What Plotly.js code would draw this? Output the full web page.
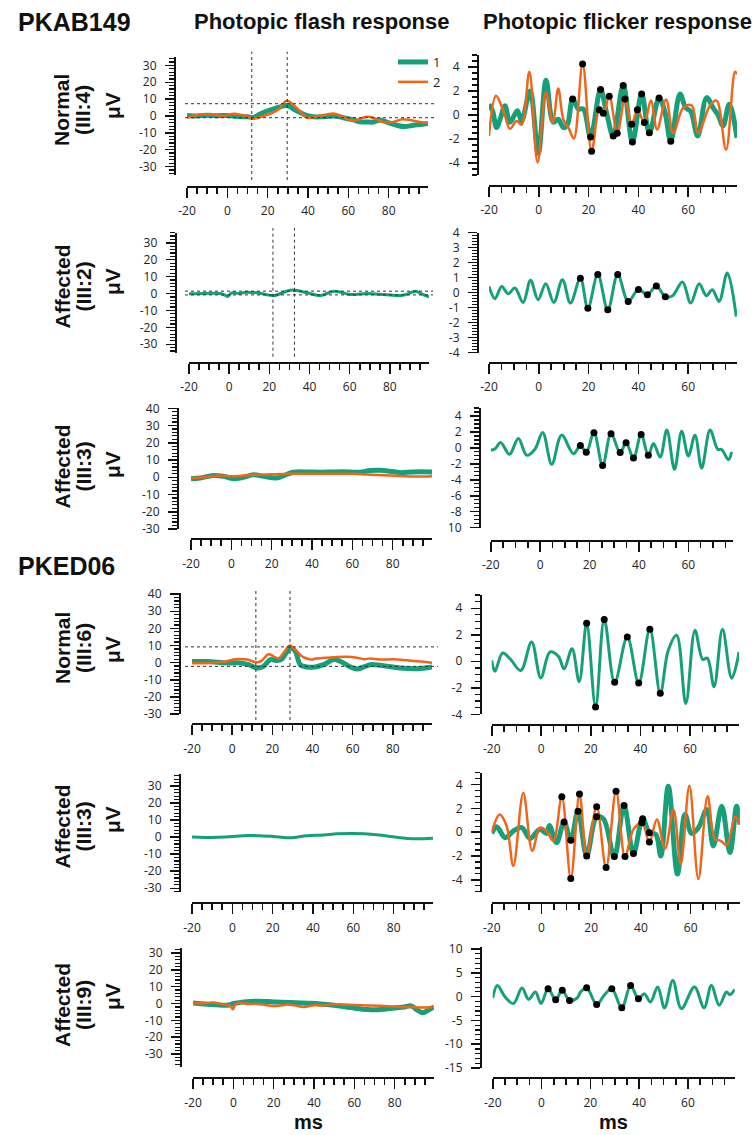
<!DOCTYPE html>
<html><head><meta charset="utf-8">
<script src="https://cdn.plot.ly/plotly-3.0.1.min.js"></script>
<style>body{margin:0;background:#fff}#chart{width:755px;height:1135px}</style>
</head><body><div id="chart"></div>
<script>
// ---------------- DATA ----------------
// PKAB149 Normal (III:4) flash
const abN_flash_t1 = [-20,-15,-10,-5,0,5,10,13,16,19.5,24.5,28,30.2,33,36,39.3,42.6,47,52.6,57.5,62.5,65.8,69,72.4,75.7,79.8,84,88,92.2,96,99.5];
const abN_flash_v1 = [0.3,0,0.5,0.2,0.3,-0.3,-0.5,-0.8,1,2.8,4.8,6.0,6.1,4,2.2,0.3,-0.5,-0.5,0,-1,-2.3,-3.5,-3.5,-3.6,-2.3,-4,-5.5,-6.3,-5.5,-5,-4.4];
const abN_flash_t2 = [-20,-13.5,-7,-2,3,8,13.7,17.9,21.2,25.3,29.4,32.7,36,39.3,43.5,49.3,52.6,55.9,60.9,64,69,72.4,77.4,82.3,86.4,90.6,95.5,99.5];
const abN_flash_v2 = [-1,0.9,0.9,0,1.3,0.4,-1.4,0,1.3,3.8,9.0,6.7,2.8,-1,-0.4,0.9,1.5,0.3,-2.4,-2.4,-0.4,-1,-3.6,-3.6,-2,-2.4,-3.6,-4.4];
const abN_cursor_t = [12.1, 29.7];
const abN_cursor_v = [7.3, -1.0];
// PKAB149 Affected (III:2) flash
const abA2_flash_t = [-20,-12,-4.5,-2,-0.7,1.3,5,8.8,15.5,22.2,30.5,35.5,42.2,45.5,52.2,55.5,60.5,68.8,77.2,85.5,88,93,95.5,99.5];
const abA2_flash_v = [-0.1,0.1,0,-1,-1.8,0.4,0,0.8,0.2,-1.2,2,1.4,-0.6,-1.2,1.4,0.8,-0.6,0,-0.6,-1.2,-0.6,1.4,0,-2];
const abA2_cursor_t = [21.8, 32.5];
const abA2_cursor_v = [1.4, -0.8];
// PKAB149 Affected (III:3) flash
const abA3_flash_t1 = [-20,-15.5,-9,-4,1,6,11,16,22.5,27.4,30.7,37.4,44,50.6,59,63.8,68.8,73.7,78.7,83.6,90.2,99.5];
const abA3_flash_v1 = [-0.8,-0.4,1,0.6,-0.8,0,1.4,0.6,-0.4,1.6,2.9,3.1,2.9,3.1,3.1,2.9,3.9,4.1,3.5,2.7,3.1,3.1];
const abA3_flash_t2 = [-20,-12,-5.6,1,11,21,30.7,45,60.5,67,75.4,83.6,92,99.5];
const abA3_flash_v2 = [-0.4,0.2,1,0.6,1.4,1.8,2,2,2,1.6,1.2,0.8,0.4,0.6];
// PKED06 Normal (III:6) flash
const edN_flash_t1 = [-20,-12.5,-2.6,4,8.2,12.3,15.6,19,22.3,24.8,29,31.4,33.9,37.2,41.4,45.5,50.5,53.8,58.8,62.1,66.2,68.7,75.4,83.6,92,99.5];
const edN_flash_v1 = [0.6,0.6,-0.2,-0.2,-1.2,-3.1,-2.2,1.8,1.2,2.2,8.6,6.7,-1.2,-2.5,-2.5,-1.2,1.8,0.8,-2.5,-3.7,-2.2,-1.2,-1.8,-3.1,-3.5,-2.5];
const edN_flash_t2 = [-20,-9.2,-2.6,1.6,7.4,12.3,14.8,18.1,20.6,23.1,25.6,28.6,31.4,34.7,37.2,39.7,41.4,44.7,50.5,57.1,62.1,65.5,68.8,73.7,80.3,87,99.5];
const edN_flash_v2 = [-0.4,0,0.8,2,1.8,0.2,1.2,4.9,3.7,2.4,5.7,10,7.6,3.7,2.4,1.8,2.4,2.7,3.1,3.5,2.9,2,2.4,1.8,2,1.4,0];
const edN_cursor_t = [11.8, 28.8];
const edN_cursor_v = [9.2, -2.2];
// PKED06 Affected (III:3) flash
const edA3_flash_t = [-20,-12.9,0.4,7.1,13.7,22,28.7,37,45.3,52,60.2,70.2,78.5,86.8,91.8,99.5];
const edA3_flash_v = [0,-0.2,0.4,1,0.8,0.2,-0.4,0.8,1.2,1.9,2.1,1.6,0.4,-0.8,-1,-0.6];
// PKED06 Affected (III:9) flash
const edA9_flash_t1 = [-20,-13,-3,0.2,5.2,11.8,20.1,28.4,36.7,43.3,50,58.3,66.6,73.2,79.8,84.8,88.1,91.4,93.9,97.2,99.5];
const edA9_flash_v1 = [0.4,-0.4,-1,0,1,1.4,1,0.6,0.2,-0.2,-1,-2.4,-3.6,-3.6,-2.6,-2,-1.4,-4,-5.5,-3.6,-2];
const edA9_flash_t2 = [-20,-13,-9.7,-4.7,-1.4,-0.3,1,2.7,6.9,11.8,16.8,21.8,26.8,30.1,35,40,45,48.3,55,63.3,74.8,83.1,88.1,93,99.5];
const edA9_flash_v2 = [0,0.4,0.6,-0.6,-1.4,-3.4,-0.6,0.4,-0.2,-0.2,-1,-1.4,-0.6,-1,-2,-1,-1.2,-0.4,-0.6,-1,-1.4,-2,-2,-2.4,-2];

// PKAB149 Normal (III:4) flicker
const abN_flick_t1 = [-20,-18.5,-17,-15.3,-13.6,-11.6,-8.6,-6.9,-3.5,-0.2,2.9,5.8,7.8,9.9,11.5,13.6,15.9,17.9,20.8,24.8,27.2,29.9,33.9,37.6,41.3,44.4,48.3,50.6,53,56.7,59,61,63.8,67.4,70,72,74,76.5,79.6];
const abN_flick_v1 = [0.9,0.3,-1.05,-0.2,0.77,-0.6,0.35,-0.5,2.0,-3.2,2.9,-0.6,-0.35,-1.05,-0.8,1.33,0.5,0.5,-1.84,2.12,0.2,-1.76,2.46,-2.24,1.75,-1.48,1.42,0.3,-2.18,1.75,0.6,0.3,-1.75,1.45,0.6,0,-0.9,0.9,-1.9];
const abN_flick_t2 = [-20,-17.2,-14,-11.6,-8.9,-6.9,-3.8,-0.5,2.9,5.6,7.8,9.9,11.9,14.1,17.6,21.2,24.3,25.9,28.3,31.5,34.6,37.3,39.6,42.4,45,47.5,51.1,54,58,61.4,64,68.8,71.4,75.2,78.8,79.6];
const abN_flick_v2 = [-1.75,1.6,0.2,-1.15,-0.5,-0.8,3.6,-3.95,1.9,-0.65,2.2,-0.4,-1.05,-1.95,4.25,-3.02,0.43,0.15,1.56,-1.53,1.33,-0.78,0.43,-0.63,1.2,-1.2,1.3,-1.5,0.6,0.8,-1.5,0.8,1.2,-2.9,3.6,3.4];
const abN_peaks_t = [13.6,17.6,20.8,21.2,24.3,24.8,25.9,28.3,29.9,31.5,33.9,34.6,37.3,37.6,39.6,41.3,42.4,44.4,48.3,53.0];
const abN_peaks_v = [1.33,4.25,-1.84,-3.02,0.43,2.12,0.15,1.56,-1.76,-1.53,2.46,1.33,-0.78,-2.24,0.43,1.75,-0.63,-1.48,1.42,-2.18];
// PKAB149 Affected (III:2) flicker
const abA2_flick_t = [-20,-17.6,-14.9,-12.3,-9.6,-6.3,-3.3,-0.3,2.8,6,9.5,12.7,16.7,19.7,23.7,27.7,31.7,35.9,40,43.6,47.2,50.8,53.7,57.7,61,64.4,67.3,69.7,72.4,75.7,79.3];
const abA2_flick_v = [0.42,-0.4,0.42,-0.07,0.31,-0.65,0.83,-0.47,0.6,-0.65,0.87,-0.69,0.96,-1.03,1.21,-1.14,1.21,-0.58,0.22,-0.13,0.45,-0.27,-0.2,0.72,-0.69,0.6,-0.2,0.2,-0.58,1.32,-1.59];
const abA2_peaks_t = [16.7,19.7,23.7,27.7,31.7,35.9,40,43.6,47.2,50.8];
const abA2_peaks_v = [0.96,-1.03,1.21,-1.14,1.21,-0.58,0.22,-0.13,0.45,-0.27];
// PKAB149 Affected (III:3) flicker
const abA3_flick_t = [-20,-18.2,-16,-12.4,-8.8,-5.4,-2.1,1.05,4.7,8.7,13.5,16.3,18.7,21.8,25.3,28.7,32.4,34.8,37.8,40.9,43.8,45.9,48.6,51.3,54.4,57.3,60,62.7,65.4,68.8,71.9,73.5,76.2,77.6];
const abA3_flick_v = [-0.3,-0.1,0.67,-0.8,1.18,-0.93,-0.17,1.94,-2.06,1.6,-0.72,0.3,-0.55,1.89,-2.19,1.77,-0.59,0.63,-1.26,1.68,-0.93,0.55,-1.14,2.23,-2.69,2.1,-1.01,1.6,-2.53,2.23,-0.17,-0.2,-1.47,-0.5];
const abA3_peaks_t = [16.3,18.7,21.8,25.3,28.7,32.4,34.8,37.8,40.9,43.8];
const abA3_peaks_v = [0.3,-0.55,1.89,-2.19,1.77,-0.59,0.63,-1.26,1.68,-0.93];
// PKED06 Normal (III:6) flicker
const edN_flick_t = [-20,-18.7,-15.6,-12.6,-8.3,-3.9,-0.2,3.5,6.9,9.2,12.4,15.3,18.3,21.9,25.4,29.6,34.7,39.3,43.8,48,51.2,54.6,58.3,62,65.1,67,69.7,73.1,76.8,79.8];
const edN_flick_v = [0.06,-0.75,0.62,0.19,-0.7,1.46,-1.26,0.7,0.37,-0.57,0.95,-1.54,2.86,-3.44,3.16,-1.59,1.83,-1.64,2.41,-2.41,0.82,1.97,-3.19,2.35,0.14,0.24,-1.92,2.41,-1.28,0.7];
const edN_peaks_t = [18.3,21.9,25.4,29.6,34.7,39.3,43.8,48];
const edN_peaks_v = [2.86,-3.44,3.16,-1.59,1.83,-1.64,2.41,-2.41];
// PKED06 Affected (III:3) flicker
const edA3_flick_t1 = [-20,-18,-14.6,-11.3,-7.9,-4.6,-0.6,2.1,3.2,6.1,9.1,11.8,14.7,18.2,22.2,25,29.3,33.2,37,40.7,43.4,46,48,51,54.7,57.7,60.4,63.1,66.5,69.1,72.5,75.8,78.5,79.8];
const edA3_flick_v1 = [-0.1,0.46,-0.46,0.1,0.38,-0.52,0.24,-0.1,0.57,-0.88,0.85,-0.68,1.77,-1.99,1.3,1.1,-2.05,2.24,-1.8,1.13,-0.04,-0.2,-2,3.86,-3.52,1.49,-0.1,0.38,1.91,-1.16,2.18,-1.71,2.18,0.65];
const edA3_flick_t2 = [-20,-16.8,-14,-11.3,-7.3,-3.7,-0.6,2.1,4.8,8.2,11.8,15.3,18.2,22.2,26,30,33.6,37,40.4,43.4,46.4,49.7,53.1,56,59.5,63.1,66.8,69.8,72,74.5,77.9,79.8];
const edA3_flick_v2 = [0,1.49,0.52,-2.83,3.3,-1.57,0.38,0.1,-0.74,2.97,-3.89,3.22,-1.94,2.13,-2.97,3.44,-2.05,0.24,0.79,-0.82,1.07,-1.38,1.91,-2.69,3.91,-3.94,3.02,-0.6,-0.7,-1.1,1.3,0.65];
const edA3_peaks_t = [9.1,11.8,14.7,18.2,22.2,29.3,33.2,37,40.7,43.4,8.2,11.8,15.3,22.2,26,30,33.6,40.4,43.4];
const edA3_peaks_v = [0.85,-0.68,1.77,-1.99,1.3,-2.05,2.24,-1.8,1.13,-0.04,2.97,-3.89,3.22,2.13,-2.97,3.44,-2.05,0.79,-0.82];
// PKED06 Affected (III:9) flicker
const edA9_flick_t = [-20,-18.1,-14.9,-11.5,-8,-5.3,-2.5,-0.2,2.7,5.8,8.5,11.5,14.6,16,18.5,22.6,25.5,28.8,32.9,36.5,39.7,42.1,44.6,47.6,50.4,53.8,57.3,62.7,66.6,69.6,72.8,75.8,77.2,79.2];
const edA9_flick_v = [-0.28,2.36,-0.07,-1.46,1.8,-0.56,0.97,-1.46,1.67,-0.63,1.32,-0.83,-0.28,0.97,1.88,-1.67,0.2,1.67,-2.36,2.36,-0.42,0.63,-1.11,2.01,-2.36,3.4,-2.5,2.01,-2.36,2.36,-1.8,0.97,0.42,1.53];
const edA9_peaks_t = [2.7,5.8,8.5,11.5,18.5,22.6,28.8,32.9,36.5,39.7];
const edA9_peaks_v = [1.67,-0.63,1.32,-0.83,1.88,-1.67,1.67,-2.36,2.36,-0.42];

// tick labels
const flashXTicks = [-20,0,20,40,60,80];
const flickXTicks = [-20,0,20,40,60];
const flashYTicks30 = [-30,-20,-10,0,10,20,30];
const flashYTicks40 = [-30,-20,-10,0,10,20,30,40];
const flickYTicks2 = [-4,-2,0,2,4];
const flickYTicks1 = [-4,-3,-2,-1,0,1,2,3,4];
const flickYTicks10 = [-10,-8,-6,-4,-2,0,2,4];
const flickYTicks10Text = ['10','-8','-6','-4','-2','0','2','4'];
const flickYTicks5 = [-15,-10,-5,0,5,10];
const familyNames = ['PKAB149','PKED06'];
const columnTitles = ['Photopic flash response','Photopic flicker response'];
const rowLabel1 = ['Normal','Affected','Affected','Normal','Affected','Affected'];
const rowLabel2 = ['(III:4)','(III:2)','(III:3)','(III:6)','(III:3)','(III:9)'];
const seriesNames = ['1','2'];

// ---------------- LAYOUT ----------------
const W=755, H=1135;
const X = p => p/W, Y = p => 1 - p/H;
const GREEN = '#16a07a', ORANGE = '#f26419';

// panel geometry (pixels)
const panels = [
 {x0:187,x1:428,xr:[-20,99.5],xl:187,yt:57,yb:175,yl:175,yr:[-35,35],yt_:flashYTicks30,dt:2,xt:flashXTicks,mdx:5},
 {x0:489,x1:737,xr:[-20,79.6],xl:186,yt:55,yb:175,yl:478,yr:[-5,5],yt_:flickYTicks2,dt:0.5,xt:flickXTicks,mdx:5},
 {x0:189,x1:429,xr:[-20,99.5],xl:362.7,yt:232.7,yb:352.7,yl:175.7,yr:[-35,36],yt_:flashYTicks30,dt:2,xt:flashXTicks,mdx:5},
 {x0:489,x1:737,xr:[-20,79.6],xl:363,yt:232.7,yb:352.7,yl:478,yr:[-4,4],yt_:flickYTicks1,dt:0.2,xt:flickXTicks,mdx:5},
 {x0:191,x1:432,xr:[-20,99.5],xl:539.3,yt:408.3,yb:529,yl:178,yr:[-30,40],yt_:flashYTicks40,dt:2,xt:flashXTicks,mdx:5},
 {x0:490.7,x1:732.8,xr:[-20,78],xl:541,yt:408,yb:527.7,yl:480,yr:[-10,5],yt_:flickYTicks10,ytt:flickYTicks10Text,dt:0.5,xt:flickXTicks,mdx:5},
 {x0:192,x1:432,xr:[-20,99.5],xl:724.3,yt:593.3,yb:714,yl:180,yr:[-30,40.5],yt_:flashYTicks40,dt:2,xt:flashXTicks,mdx:5},
 {x0:491.7,x1:739.1,xr:[-20,79.8],xl:725,yt:595,yb:714.3,yl:480.7,yr:[-4,5],yt_:flickYTicks2,dt:0.5,xt:flickXTicks,mdx:5},
 {x0:192,x1:433,xr:[-20,99.5],xl:903.3,yt:774,yb:891.7,yl:180,yr:[-32,37],yt_:flashYTicks30,dt:2,xt:flashXTicks,mdx:5},
 {x0:491.7,x1:739.9,xr:[-20,79.8],xl:903.3,yt:772.7,yb:891.7,yl:481,yr:[-5,5],yt_:flickYTicks2,dt:0.5,xt:flickXTicks,mdx:5},
 {x0:193,x1:434,xr:[-20,99.5],xl:1078.3,yt:948,yb:1066.7,yl:181,yr:[-37.5,33],yt_:flashYTicks30,dt:2,xt:flashXTicks,mdx:5},
 {x0:492.7,x1:734.8,xr:[-20,79.2],xl:1078.3,yt:946.7,yb:1068,yl:481,yr:[-15,10.5],yt_:flickYTicks5,dt:1,xt:flickXTicks,mdx:5}
];

const tickFont = {family:'"Open Sans", sans-serif', size:12, color:'#222'};
const layout = {
  width:W, height:H, margin:{l:0,r:0,t:0,b:0},
  paper_bgcolor:'#fff', plot_bgcolor:'rgba(0,0,0,0)',
  showlegend:true,
  legend:{x:X(393), y:Y(47), xanchor:'left', yanchor:'top', bgcolor:'rgba(0,0,0,0)',
          font:{family:'"Open Sans", sans-serif', size:13, color:'#222'}, itemwidth:30, tracegroupgap:0},
  annotations:[], shapes:[]
};

panels.forEach((p,i)=>{
  const n = i+1, sx = n===1?'':String(n);
  layout['xaxis'+sx] = {
    domain:[X(p.x0),X(p.x1)], range:p.xr, anchor:'free', position:Y(p.xl),
    showline:true, linecolor:'#111', linewidth:2, showgrid:false, zeroline:false,
    ticks:'outside', ticklen:10, tickwidth:1.6, tickcolor:'#111',
    tickmode:'array', tickvals:p.xt, ticktext:p.xt.map(String),
    minor:{tickmode:'linear', tick0:0, dtick:p.mdx, ticks:'outside', ticklen:6, tickwidth:1.6, tickcolor:'#111'},
    tickfont:tickFont, ticklabelstandoff:3, fixedrange:true
  };
  layout['yaxis'+sx] = {
    domain:[Y(p.yb),Y(p.yt)], range:p.yr, anchor:'free', position:X(p.yl),
    showline:true, linecolor:'#111', linewidth:2, showgrid:false, zeroline:false,
    ticks:'outside', ticklen:9, tickwidth:1.5, tickcolor:'#111',
    tickmode:'array', tickvals:p.yt_, ticktext:(p.ytt||p.yt_.map(String)),
    minor:{tickmode:'linear', tick0:0, dtick:p.dt, ticks:'outside', ticklen:5, tickwidth:1.2, tickcolor:'#111'},
    tickfont:tickFont, ticklabelstandoff:6, fixedrange:true
  };
});

const traces = [];
function line(n, t, v, color, width, name, showleg){
  const sx = n===1?'':String(n);
  traces.push({type:'scatter', mode:'lines', x:t, y:v, xaxis:'x'+sx, yaxis:'y'+sx,
    line:{color:color, width:width, shape:'spline', smoothing:1}, name:name||'', showlegend:!!showleg,
    hoverinfo:'skip'});
}
function dots(n, t, v){
  const sx = n===1?'':String(n);
  traces.push({type:'scatter', mode:'markers', x:t, y:v, xaxis:'x'+sx, yaxis:'y'+sx,
    marker:{color:'#000', size:7}, showlegend:false, hoverinfo:'skip'});
}
// flash
line(1, abN_flash_t1, abN_flash_v1, GREEN, 5, seriesNames[0], true);
line(1, abN_flash_t2, abN_flash_v2, ORANGE, 2.5, seriesNames[1], true);
line(3, abA2_flash_t, abA2_flash_v, GREEN, 3);
line(5, abA3_flash_t1, abA3_flash_v1, GREEN, 5);
line(5, abA3_flash_t2, abA3_flash_v2, ORANGE, 2.5);
line(7, edN_flash_t1, edN_flash_v1, GREEN, 5);
line(7, edN_flash_t2, edN_flash_v2, ORANGE, 2.5);
line(9, edA3_flash_t, edA3_flash_v, GREEN, 3);
line(11, edA9_flash_t1, edA9_flash_v1, GREEN, 5);
line(11, edA9_flash_t2, edA9_flash_v2, ORANGE, 2.5);
// flicker
line(2, abN_flick_t1, abN_flick_v1, GREEN, 5);
line(2, abN_flick_t2, abN_flick_v2, ORANGE, 2.5);
dots(2, abN_peaks_t, abN_peaks_v);
line(4, abA2_flick_t, abA2_flick_v, GREEN, 3);
dots(4, abA2_peaks_t, abA2_peaks_v);
line(6, abA3_flick_t, abA3_flick_v, GREEN, 3);
dots(6, abA3_peaks_t, abA3_peaks_v);
line(8, edN_flick_t, edN_flick_v, GREEN, 3);
dots(8, edN_peaks_t, edN_peaks_v);
line(10, edA3_flick_t1, edA3_flick_v1, GREEN, 5);
line(10, edA3_flick_t2, edA3_flick_v2, ORANGE, 2.5);
dots(10, edA3_peaks_t, edA3_peaks_v);
line(12, edA9_flick_t, edA9_flick_v, GREEN, 3);
dots(12, edA9_peaks_t, edA9_peaks_v);

// cursor lines (dotted)
const dotLine = {color:'#333', width:1, dash:'dot'};
function cursors(n, ts, vs, vy0, vy1, hx0, hx1){
  const sx = n===1?'':String(n);
  ts.forEach(t=>layout.shapes.push({type:'line', xref:'x'+sx, yref:'paper', x0:t, x1:t, y0:Y(vy0), y1:Y(vy1), line:dotLine}));
  vs.forEach(v=>layout.shapes.push({type:'line', xref:'paper', yref:'y'+sx, x0:X(hx0), x1:X(hx1), y0:v, y1:v, line:dotLine}));
}
cursors(1, abN_cursor_t, abN_cursor_v, 180, 51.7, 185, 435);
cursors(3, abA2_cursor_t, abA2_cursor_v, 356.7, 228, 185, 433);
cursors(7, edN_cursor_t, edN_cursor_v, 720, 588, 185, 438);

// text
const boldFont = (s)=>({family:'Arial, "Liberation Sans", sans-serif', size:s, color:'#111', weight:700});
function ann(text, x, y, size, opts){
  layout.annotations.push(Object.assign({text:text, x:X(x), y:Y(y), xref:'paper', yref:'paper',
    showarrow:false, xanchor:'center', yanchor:'middle', font:boldFont(size)}, opts||{}));
}
ann(familyNames[0], 16, 22, 25, {xanchor:'left'});
ann(familyNames[1], 16, 566, 25, {xanchor:'left'});
ann(columnTitles[0], 192, 22, 22, {xanchor:'left'});
ann(columnTitles[1], 481, 22, 22, {xanchor:'left'});
const rowY = [110, 286.5, 466.5, 648, 826.5, 1005];
const muY  = [106, 282, 465, 650, 820, 997];
rowY.forEach((y,i)=>{
  ann(rowLabel1[i], 62, y, 21, {textangle:-90});
  ann(rowLabel2[i], 83, y, 21, {textangle:-90});
  ann('μV', 112, muY[i], 21, {textangle:-90});
});
ann('ms', 308, 1134, 20, {yanchor:'bottom', borderpad:0});
ann('ms', 613, 1134, 20, {yanchor:'bottom', borderpad:0});

Plotly.newPlot('chart', traces, layout, {staticPlot:true, displayModeBar:false});
</script>
</body></html>
